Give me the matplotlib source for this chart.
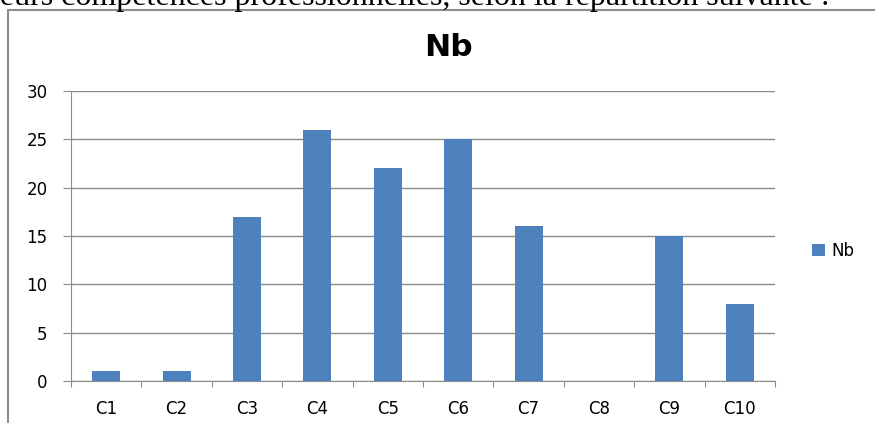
import matplotlib.pyplot as plt
from matplotlib.patches import Rectangle
import numpy as np

categories = ["C1", "C2", "C3", "C4", "C5", "C6", "C7", "C8", "C9", "C10"]
nb = [1, 1, 17, 26, 22, 25, 16, 0, 15, 8]
y_ticks = [0, 5, 10, 15, 20, 25, 30]

bar_color = "#4F81BD"
grey = "#8C8C8C"

fig = plt.figure(figsize=(8.75, 4.23), dpi=100)

# text of the page above the chart, cut by the crop
fig.text(-9 / 875, 1 - 5 / 423, "leurs compétences professionnelles, selon la répartition suivante :",
         family="Liberation Serif", fontsize=23, ha="left", va="baseline")

# chart frame (goes past right and bottom edges)
fig.patches.append(Rectangle((8 / 875, -0.1), 1.2, 1 - 10 / 423 + 0.1,
                             transform=fig.transFigure, fill=False,
                             edgecolor=grey, linewidth=1.5))

ax = fig.add_axes([71 / 875, 1 - 381 / 423, 704 / 875, 290 / 423])

x = np.arange(len(categories)) + 0.5
ax.bar(x, nb, width=0.4, color=bar_color, label="Nb", zorder=3)

ax.set_xlim(0, len(categories))
ax.set_ylim(0, 30)
ax.set_yticks(y_ticks)
ax.yaxis.grid(True, color=grey, linewidth=1)
ax.set_axisbelow(True)

ax.set_xticks(np.arange(len(categories) + 1))
ax.set_xticklabels([])
ax.set_xticks(x, minor=True)
ax.set_xticklabels(categories, minor=True)
ax.tick_params(axis="x", which="major", length=4.3, color=grey, direction="out")
ax.tick_params(axis="x", which="minor", length=0, pad=14, labelsize=12)
ax.tick_params(axis="y", length=5.8, color=grey, pad=11, labelsize=12)

for side in ["top", "right"]:
    ax.spines[side].set_visible(False)
for side in ["left", "bottom"]:
    ax.spines[side].set_color(grey)

fig.text(448 / 875, 1 - 48 / 423, "Nb", fontsize=22.5, fontweight="bold",
         ha="center", va="center")

ax.legend(loc="center left", bbox_to_anchor=((812 - 71) / 704, 0.45), frameon=False,
          fontsize=12, handlelength=0.75, handleheight=0.75, handletextpad=0.4,
          borderaxespad=0, borderpad=0)

plt.savefig("out.png", dpi=100)
